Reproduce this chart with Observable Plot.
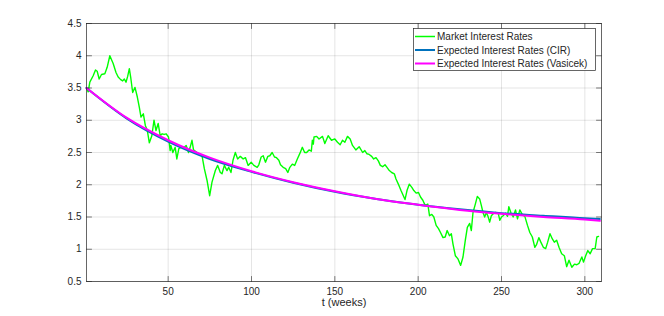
<!DOCTYPE html>
<html><head><meta charset="utf-8">
<script src="https://cdn.jsdelivr.net/npm/d3@7"></script>
<script src="https://cdn.jsdelivr.net/npm/@observablehq/plot@0.6"></script>
<style>body{margin:0;background:#fff;}</style>
</head><body><div id="chart"></div>
<script>
const marketT = [1,2,3,5,6.4,7.4,8.6,10,12,13.4,15,17,18.7,20,21.5,22.7,23.7,24.7,25.7,26.7,27.5,28.7,30.1,31.5,32.7,33.7,35.1,36.3,37.5,38.7,40.2,41.5,42.7,44,45.2,46.4,47.6,48.8,50.2,51.2,51.6,52.8,54.2,55.2,56.4,58.2,59.6,60.8,62.2,63.2,64.3,65.2,67.3,70.3,71.7,73.3,74.9,76.3,78.3,79.7,81.3,82.3,83.7,85.3,86.3,87.7,88.9,90.3,91.7,93.3,95,96.4,98,99.8,101.4,103.4,104.4,105.8,107,108.4,109.8,111,112.4,113.8,115,116.4,117.4,119,120.5,121.8,123,124.5,125.9,127.5,129.1,130.5,131.9,133.1,134.5,135.9,136.5,137.1,137.5,139.1,140.5,142.6,144,146,148,150,151.6,153.2,154.6,156,157.6,159.2,160.6,162.6,164.6,166.7,168,169.3,170.6,172.1,173.3,174.7,176.1,177.3,178.7,180.1,181.3,182.7,184.1,185.7,186.7,188.1,189.7,191.1,192.1,193.3,194.7,196.2,197.4,198.8,200.2,201.4,202.8,204.2,205.8,206.8,208.2,209.4,210.8,212.2,213.4,214.9,216.2,217.4,218.8,219.9,220.9,222.3,223.9,225.5,226.9,228.3,229.5,230.9,231.9,232.9,234.3,235.5,236.9,237.9,238.9,239.9,240.9,241.9,242.9,243.9,245,246.4,248,249,250,251,252.4,253.6,254.4,255.6,257,258.4,259.6,261,262.4,264,265.6,267,268.5,270,271,272.4,273.6,275.1,276.5,277.7,279.1,280.5,281.7,283.1,284.5,286.1,287.7,289.1,290.5,292.2,293.8,295.2,296.5,298.2,299.2,300.5,301.8,303.2,304.6,306.2,307.2,308.2];
const marketRate = [3.50,3.44,3.59,3.69,3.78,3.76,3.64,3.71,3.72,3.82,4.00,3.88,3.74,3.67,3.63,3.61,3.64,3.59,3.68,3.80,3.67,3.43,3.51,3.36,3.20,3.05,3.10,2.92,2.84,2.65,2.76,3.00,2.84,2.95,2.76,2.79,2.78,2.79,2.74,2.53,2.61,2.50,2.58,2.40,2.56,2.59,2.58,2.61,2.50,2.58,2.69,2.54,2.50,2.45,2.25,2.07,1.83,2.04,2.22,2.30,2.19,2.17,2.30,2.22,2.27,2.19,2.38,2.50,2.40,2.44,2.40,2.42,2.30,2.35,2.30,2.27,2.31,2.43,2.45,2.35,2.44,2.45,2.50,2.43,2.42,2.38,2.31,2.27,2.25,2.19,2.27,2.32,2.30,2.40,2.49,2.58,2.50,2.50,2.54,2.52,2.69,2.63,2.74,2.75,2.71,2.75,2.64,2.76,2.69,2.71,2.66,2.62,2.69,2.66,2.75,2.71,2.61,2.54,2.59,2.50,2.53,2.48,2.47,2.44,2.40,2.42,2.37,2.30,2.28,2.31,2.27,2.22,2.19,2.17,2.09,2.01,1.91,1.83,1.77,1.91,2.01,1.96,1.91,1.87,1.88,1.81,1.76,1.68,1.70,1.52,1.54,1.50,1.37,1.32,1.26,1.18,1.19,1.29,1.21,1.24,1.08,0.90,0.85,0.75,0.88,1.14,1.34,1.40,1.29,1.57,1.70,1.82,1.78,1.68,1.57,1.50,1.57,1.51,1.42,1.52,1.55,1.57,1.56,1.45,1.50,1.52,1.56,1.51,1.66,1.57,1.50,1.61,1.47,1.61,1.54,1.51,1.37,1.26,1.19,1.03,1.07,1.18,1.11,1.03,1.01,1.11,1.24,1.16,1.11,1.14,1.03,0.93,0.90,0.73,0.83,0.72,0.77,0.76,0.78,0.88,0.80,0.90,0.98,0.93,1.01,1.01,1.19,1.20];
const expT = [1,25,50,75,100,125,150,175,200,225,250,275,300,309];
const cirRate = [3.50,3.03,2.67,2.40,2.20,2.03,1.89,1.78,1.69,1.62,1.56,1.52,1.48,1.47];
const vasicekRate = [3.50,3.04,2.69,2.42,2.21,2.04,1.90,1.78,1.69,1.61,1.55,1.50,1.46,1.44];
const xTicks = [50,100,150,200,250,300];
const yTicks = [0.5,1,1.5,2,2.5,3,3.5,4,4.5];
const legendLabels = ["Market Interest Rates","Expected Interest Rates (CIR)","Expected Interest Rates (Vasicek)"];
const seriesColors = ["#00ff00","#0072bd","#ff00ff"];
const xLabel = "t (weeks)";

const market = marketT.map((t,i)=>({t, r: marketRate[i]}));
const cir = expT.map((t,i)=>({t, r: cirRate[i]}));
const vas = expT.map((t,i)=>({t, r: vasicekRate[i]}));

const tickShape = {draw(ctx, l){ ctx.moveTo(0,0); ctx.lineTo(0,-l); }};
const axisCol = "#262626";
const tickOpts = {length: 5, anchor: "start", shape: tickShape, stroke: axisCol, strokeWidth: 0.6};

const chart = Plot.plot({
  width: 664, height: 316,
  marginLeft: 86, marginRight: 63, marginTop: 23, marginBottom: 35,
  style: {fontFamily: "'Liberation Sans', Arial, Helvetica, sans-serif", fontSize: "10px", color: axisCol, background: "#fff", overflow: "visible"},
  x: {domain: [1, 310]},
  y: {domain: [0.5, 4.5]},
  marks: [
    Plot.gridX(xTicks, {stroke: axisCol, strokeOpacity: 0.12, strokeWidth: 1}),
    Plot.gridY(yTicks, {stroke: axisCol, strokeOpacity: 0.12, strokeWidth: 1}),
    Plot.line(market, {x: "t", y: "r", stroke: seriesColors[0], strokeWidth: 1.4}),
    Plot.line(cir, {x: "t", y: "r", stroke: seriesColors[1], strokeWidth: 2, curve: "monotone-x"}),
    Plot.line(vas, {x: "t", y: "r", stroke: seriesColors[2], strokeWidth: 2, curve: "monotone-x"}),
    Plot.axisX(xTicks, {tickSize: 0, tickPadding: 6, label: null, tickFormat: d => String(d), fill: axisCol}),
    Plot.axisY(yTicks, {tickSize: 0, tickPadding: 5, label: null, tickFormat: d => String(d), fill: axisCol}),
    Plot.vector(xTicks, {x: d => d, y: () => 0.5, rotate: 0, ...tickOpts}),
    Plot.vector(xTicks, {x: d => d, y: () => 4.5, rotate: 180, ...tickOpts}),
    Plot.vector(yTicks, {x: () => 1, y: d => d, rotate: 90, ...tickOpts}),
    Plot.vector(yTicks, {x: () => 310, y: d => d, rotate: 270, ...tickOpts}),
    Plot.frame({stroke: axisCol, strokeWidth: 0.7}),
    Plot.text([xLabel], {frameAnchor: "bottom", dy: 17, lineAnchor: "top", fontSize: 11, fill: axisCol})
  ]
});

// legend inside axes (north-east)
const svg = d3.select(chart);
const lg = svg.append("g").attr("font-family", "'Liberation Sans', Arial, Helvetica, sans-serif").attr("font-size", 10).attr("text-anchor", "start");
lg.append("rect").attr("x", 413.5).attr("y", 28.5).attr("width", 182).attr("height", 42)
  .attr("fill", "#fff").attr("stroke", axisCol).attr("stroke-width", 0.7);
legendLabels.forEach((lab, i) => {
  const yy = 36.5 + i * 13.5;
  lg.append("line").attr("x1", 415).attr("x2", 435).attr("y1", yy).attr("y2", yy)
    .attr("stroke", seriesColors[i]).attr("stroke-width", i === 0 ? 1.5 : 2);
  lg.append("text").attr("x", 437).attr("y", yy).attr("dy", "0.35em").attr("text-anchor", "start").attr("fill", axisCol).text(lab);
});

document.getElementById("chart").appendChild(chart);
</script>
</body></html>
